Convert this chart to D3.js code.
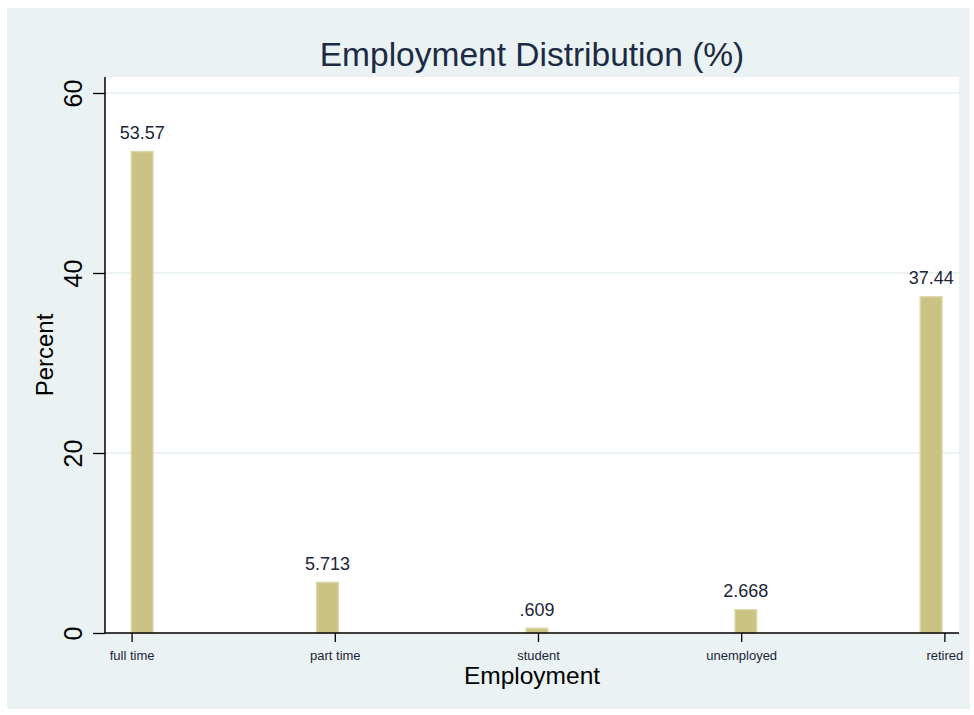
<!DOCTYPE html>
<html>
<head>
<meta charset="utf-8">
<script src="https://cdn.jsdelivr.net/npm/d3@7"></script>
<style>
  html, body { margin: 0; padding: 0; background: #fff; }
  text { font-family: "Liberation Sans", Arial, sans-serif; }
</style>
</head>
<body>
<div id="chart"></div>
<script>
/* ── Data ─────────────────────────────────────────────────────── */

const categories = ['full time', 'part time', 'student', 'unemployed', 'retired'];
const categoryCodes = [1, 2, 3, 4, 5];
const percents = [53.57, 5.713, 0.609, 2.668, 37.44];
const valueLabels = ['53.57', '5.713', '.609', '2.668', '37.44'];
// histogram bin edges (data units) holding each category
const binLo = [0.995, 1.907, 2.938, 3.966, 4.878];
const binHi = [1.109, 2.021, 3.052, 4.080, 4.992];
const yTicks = [0, 20, 40, 60];

/* ── Layout ───────────────────────────────────────────────────── */

const W = 974, H = 715;
const plot = { left: 105, right: 959, top: 77, bottom: 633 };

const svg = d3.select('#chart').append('svg')
  .attr('width', W)
  .attr('height', H);

// graph region
svg.append('rect')
  .attr('x', 7).attr('y', 8)
  .attr('width', 963).attr('height', 701)
  .attr('fill', '#eaf2f3');

// plot region
svg.append('rect')
  .attr('x', plot.left).attr('y', plot.top)
  .attr('width', plot.right - plot.left)
  .attr('height', plot.bottom - plot.top)
  .attr('fill', '#fff');

/* ── Scales ───────────────────────────────────────────────────── */

const x = d3.scaleLinear()
  .domain([0.869, 5.072])
  .range([plot.left, plot.right]);

const y = d3.scaleLinear()
  .domain([0, 60])
  .range([plot.bottom, 93]);

/* ── Grid ─────────────────────────────────────────────────────── */

svg.append('g')
  .selectAll('line')
  .data(yTicks.filter(d => d > 0))
  .join('line')
  .attr('x1', plot.left).attr('x2', plot.right)
  .attr('y1', d => y(d)).attr('y2', d => y(d))
  .attr('stroke', '#eaf2f3')
  .attr('stroke-width', 2);

/* ── Bars ─────────────────────────────────────────────────────── */

const bars = categories.map((c, i) => ({
  cat: c, lo: binLo[i], hi: binHi[i], v: percents[i], label: valueLabels[i],
}));

svg.append('g')
  .selectAll('rect')
  .data(bars)
  .join('rect')
  .attr('x', d => x(d.lo) + 0.75)
  .attr('width', d => x(d.hi) - x(d.lo) - 1.5)
  .attr('y', d => y(d.v) + 0.75)
  .attr('height', d => y(0) - y(d.v) - 0.75)
  .attr('fill', '#cac384')
  .attr('stroke', '#dcd7a8')
  .attr('stroke-width', 1.5);

svg.append('g')
  .selectAll('text')
  .data(bars)
  .join('text')
  .attr('x', d => (x(d.lo) + x(d.hi)) / 2)
  .attr('y', d => y(d.v) - 12)
  .attr('text-anchor', 'middle')
  .attr('font-size', 18)
  .attr('fill', '#1b2638')
  .text(d => d.label);

/* ── Axes ─────────────────────────────────────────────────────── */

const gy = svg.append('g')
  .attr('transform', `translate(${plot.left},0)`)
  .call(d3.axisLeft(y).tickValues(yTicks).tickSize(12).tickFormat(d3.format('d')));
gy.select('.domain')
  .attr('d', `M0,${plot.top}V${plot.bottom}`)
  .attr('stroke', '#000')
  .attr('stroke-width', 1.5);
gy.selectAll('.tick line').attr('stroke', '#000').attr('stroke-width', 1.3);
// vertical tick labels, reading bottom to top
gy.selectAll('.tick text')
  .attr('font-size', 25)
  .attr('fill', '#000')
  .attr('text-anchor', 'middle')
  .attr('transform', 'rotate(-90)')
  .attr('x', 0)
  .attr('y', -23)
  .attr('dy', 0);

const gx = svg.append('g')
  .attr('transform', `translate(0,${plot.bottom})`)
  .call(d3.axisBottom(x)
    .tickValues(categoryCodes)
    .tickSize(9)
    .tickPadding(9)
    .tickFormat((d, i) => categories[i]));
gx.select('.domain')
  .attr('d', `M${plot.left},0H${plot.right}`)
  .attr('stroke', '#000')
  .attr('stroke-width', 1.5);
gx.selectAll('.tick line').attr('stroke', '#000').attr('stroke-width', 1.3);
gx.selectAll('.tick text')
  .attr('font-size', 13)
  .attr('fill', '#1b2638');

/* ── Titles ───────────────────────────────────────────────────── */

svg.append('text')
  .attr('x', (plot.left + plot.right) / 2)
  .attr('y', 66)
  .attr('text-anchor', 'middle')
  .attr('font-size', 33.5)
  .attr('fill', '#1c2b44')
  .text('Employment Distribution (%)');

svg.append('text')
  .attr('x', (plot.left + plot.right) / 2)
  .attr('y', 684)
  .attr('text-anchor', 'middle')
  .attr('font-size', 24.5)
  .attr('fill', '#000')
  .text('Employment');

svg.append('text')
  .attr('transform', `translate(53,${(plot.top + plot.bottom) / 2}) rotate(-90)`)
  .attr('text-anchor', 'middle')
  .attr('font-size', 24)
  .attr('fill', '#000')
  .text('Percent');
</script>
</body>
</html>
